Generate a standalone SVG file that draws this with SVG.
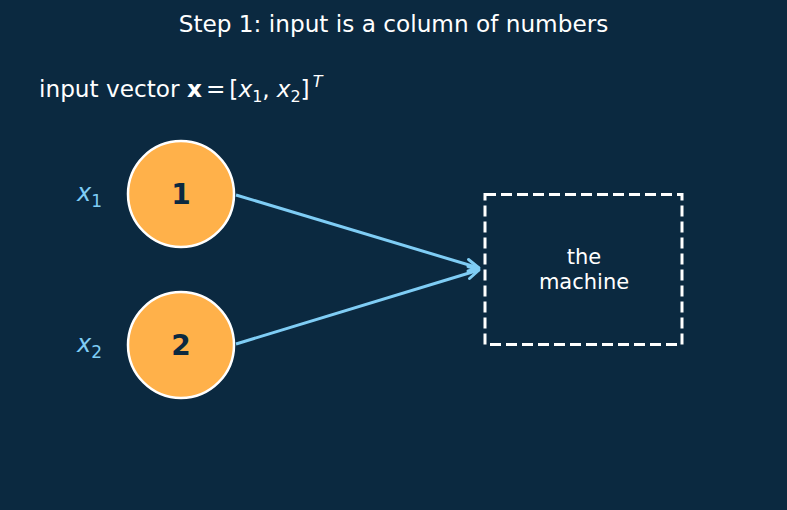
<svg xmlns="http://www.w3.org/2000/svg" width="787" height="510" viewBox="0 0 787 510">
<defs>
<style>
text{font-family:"DejaVu Sans",sans-serif;}
.t{fill:#ffffff;font-size:23.2px;}
.lbl{fill:#7fcdf5;font-size:24px;font-style:italic;}
.sub{font-size:17px;font-style:normal;}
.node circle{fill:#ffb14a;stroke:#ffffff;stroke-width:2.5;}
.node text{fill:#0b2940;font-size:28px;font-weight:bold;text-anchor:middle;}
.edge{stroke:#7fcdf5;stroke-width:3;fill:none;}
.ah{stroke:#7fcdf5;stroke-width:3;fill:none;stroke-linecap:round;stroke-linejoin:round;}
</style>
</defs>
<rect width="787" height="510" fill="#0b2940"/>
<text class="t" x="393.5" y="32" text-anchor="middle">Step 1: input is a column of numbers</text>
<text class="t" x="39" y="97">input vector <tspan font-weight="bold">x</tspan><tspan dx="4">=</tspan><tspan dx="4">[</tspan><tspan font-style="italic">x</tspan><tspan font-size="16" dy="5">1</tspan><tspan dy="-5">,</tspan><tspan dx="7" font-style="italic">x</tspan><tspan font-size="16" dy="5">2</tspan><tspan dy="-5">]</tspan><tspan font-size="16" font-style="italic" dx="3" dy="-10">T</tspan></text>
<text class="lbl" x="77" y="201">x<tspan class="sub" dy="6">1</tspan></text>
<text class="lbl" x="77" y="352">x<tspan class="sub" dy="6">2</tspan></text>
<g id="node1" class="node"><circle cx="181" cy="194" r="53"/><text x="181" y="204">1</text></g>
<g id="node2" class="node"><circle cx="181" cy="345" r="53"/><text x="181" y="355">2</text></g>
<g id="machine"><rect x="485" y="194.5" width="197" height="150" fill="none" stroke="#ffffff" stroke-width="3" stroke-dasharray="11,5"/>
<text x="584" y="264" fill="#ffffff" font-size="21" text-anchor="middle">the</text>
<text x="584" y="289" fill="#ffffff" font-size="21" text-anchor="middle">machine</text></g>
<g id="connectors">
<line class="edge" x1="236" y1="195" x2="479" y2="268"/>
<line class="edge" x1="236" y1="344" x2="479" y2="270"/>
<polyline class="ah" points="468.5,259.5 479,268 468,271"/>
<polyline class="ah" points="468,266.5 479,270 469.5,278.5"/>
</g>
</svg>
